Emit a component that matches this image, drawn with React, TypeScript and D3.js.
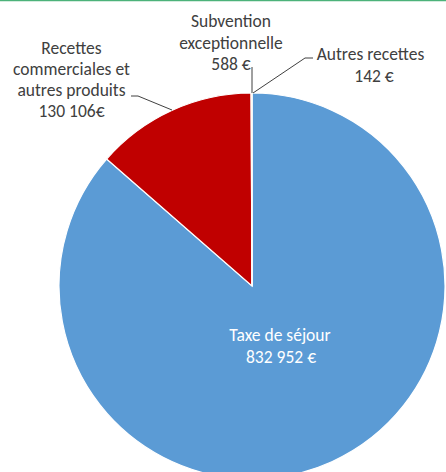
import React from "react";
import * as d3 from "d3";

const categories = ["Taxe de séjour", "Recettes commerciales et autres produits", "Subvention exceptionnelle", "Autres recettes"];
const values = [832952, 130106, 588, 142];
const colors = ["#5B9BD5", "#C00000", "#A5A5A5", "#FFC000"];

const W = 446, H = 472;
const cx = 252, cy = 286, R = 193;

export default function App() {
  const pie = d3.pie<number>().sort(null).value((d) => d)(values);
  const arc = d3.arc<d3.PieArcDatum<number>>().innerRadius(0).outerRadius(R);
  const font = "Carlito, Calibri, 'Open Sans', sans-serif";
  const fs = 17.5;
  const tc = "#404040";
  return (
    <svg width={W} height={H} style={{ position: "absolute", left: 0, top: 0, background: "#fff" }}>
      <line x1={0} x2={W} y1={0.5} y2={0.5} stroke="#4CB27A" strokeWidth={1.5} />
      <g transform={`translate(${cx},${cy})`}>
        {pie.map((p, i) => (
          <path key={i} d={arc(p) || ""} fill={colors[i]} stroke="#fff" strokeWidth={1.2} />
        ))}
      </g>
      <g fontFamily={font} fontSize={fs} fill={tc} textAnchor="middle">
        <text x={280} y={341} fill="#fff">Taxe de séjour</text>
        <text x={281} y={363} fill="#fff">832 952 €</text>
        <text x={71.5} y={54}>Recettes</text>
        <text x={71.5} y={75}>commerciales et</text>
        <text x={71.5} y={96}>autres produits</text>
        <text x={71.5} y={117}>130 106€</text>
        <text x={231} y={27}>Subvention</text>
        <text x={231} y={48.5}>exceptionnelle</text>
        <text x={231} y={70}>588 €</text>
        <text x={370.5} y={60}>Autres recettes</text>
        <text x={374} y={81.5}>142 €</text>
      </g>
      <g stroke="#404040" strokeWidth={1} fill="none">
        <polyline points="131,96 138,96 172,110" />
        <polyline points="252,67 252,93" />
        <polyline points="313,58 305,58 253,93" />
      </g>
    </svg>
  );
}
